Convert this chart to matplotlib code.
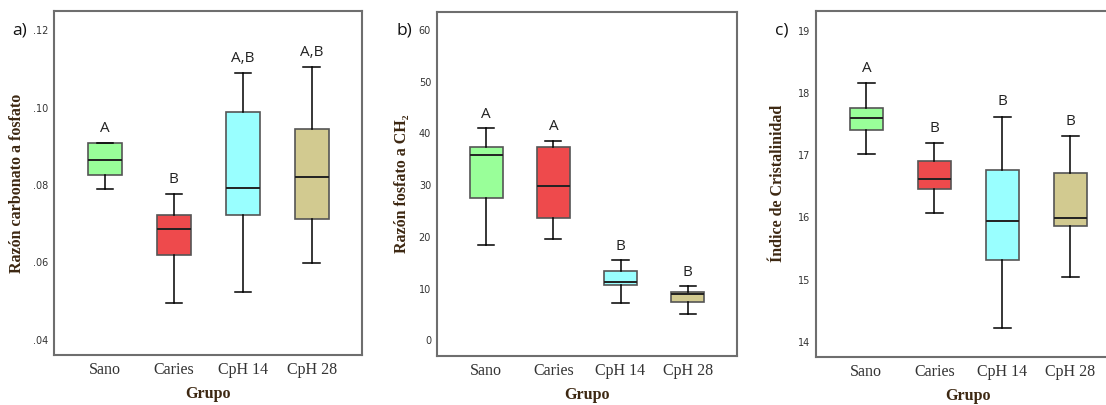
import matplotlib
matplotlib.use('Agg')
from matplotlib import pyplot as plt
from matplotlib.ticker import FuncFormatter

GROUPS = ['Sano', 'Caries', 'CpH 14', 'CpH 28']
COLORS = ['#99ff99', '#ee4a4c', '#99ffff', '#d2ca90']

# whislo, q1, med, q3, whishi per group
CARB_LO = [0.0790, 0.0496, 0.0523, 0.0599]
CARB_Q1 = [0.0825, 0.0618, 0.0723, 0.0712]
CARB_MED = [0.0865, 0.0687, 0.0791, 0.0821]
CARB_Q3 = [0.0909, 0.0723, 0.0989, 0.0944]
CARB_HI = [0.0909, 0.0778, 0.1090, 0.1106]
CARB_LETTERS = ['A', 'B', 'A,B', 'A,B']

FOSF_LO = [18.5, 19.5, 7.2, 5.0]
FOSF_Q1 = [27.5, 23.7, 10.6, 7.4]
FOSF_MED = [35.9, 29.8, 11.3, 8.9]
FOSF_Q3 = [37.4, 37.4, 13.4, 9.35]
FOSF_HI = [41.0, 38.6, 15.5, 10.5]
FOSF_LETTERS = ['A', 'A', 'B', 'B']

CRIS_LO = [17.02, 16.07, 14.22, 15.04]
CRIS_Q1 = [17.41, 16.45, 15.32, 15.86]
CRIS_MED = [17.60, 16.61, 15.94, 15.99]
CRIS_Q3 = [17.76, 16.91, 16.77, 16.71]
CRIS_HI = [18.16, 17.19, 17.62, 17.31]
CRIS_LETTERS = ['A', 'B', 'B', 'B']

SERIF = 'Liberation Serif'
LABEL_COLOR = '#3d2812'


def draw_panel(fig, rect, lo, q1, med, q3, hi, letters, ylim, yticks, fmt,
               ylabel, tag, letter_off, ylab_x, right_spine=True):
    ax = fig.add_axes(rect)
    stats = []
    for i in range(len(GROUPS)):
        stats.append({'whislo': lo[i], 'q1': q1[i], 'med': med[i],
                      'q3': q3[i], 'whishi': hi[i], 'label': GROUPS[i]})
    bp = ax.bxp(stats, positions=range(1, 5), widths=0.49, patch_artist=True,
                showfliers=False,
                boxprops=dict(edgecolor='#555555', linewidth=1.2),
                medianprops=dict(color='#222222', linewidth=1.4),
                whiskerprops=dict(color='black', linewidth=1.1),
                capprops=dict(color='black', linewidth=1.1),
                capwidths=0.24)
    for patch, c in zip(bp['boxes'], COLORS):
        patch.set_facecolor(c)

    for i, txt in enumerate(letters):
        ax.text(i + 1, hi[i] + letter_off, txt, ha='center', va='bottom',
                fontsize=11, family='Open Sans', color='#222222')

    ax.set_xlim(0.26, 4.73)
    ax.set_ylim(*ylim)
    ax.set_yticks(yticks)
    ax.yaxis.set_major_formatter(FuncFormatter(fmt))
    ax.tick_params(axis='both', length=0)
    ax.tick_params(axis='y', labelsize=7, labelcolor='#333333', pad=4)
    ax.tick_params(axis='x', labelsize=11.5, labelcolor='#333333', pad=5)
    for lbl in ax.get_xticklabels():
        lbl.set_family(SERIF)
    for s in ax.spines.values():
        s.set_color('#6e6e6e')
        s.set_linewidth(1.5)
    if not right_spine:
        ax.spines['right'].set_visible(False)
    ax.set_xlabel('Grupo', family=SERIF, fontweight='bold', fontsize=11.5,
                  color=LABEL_COLOR, labelpad=6)
    ax.set_ylabel(ylabel, family=SERIF, fontweight='bold', fontsize=11.5,
                  color=LABEL_COLOR, va='center')
    ax.yaxis.set_label_coords(ylab_x, 0.5)
    ax.text(-0.135, 0.945, tag, transform=ax.transAxes, fontsize=12.5,
            family='Open Sans', color='#111111', ha='left', va='center')
    return ax


fig = plt.figure(figsize=(11.06, 4.05), dpi=100)

draw_panel(fig, [0.0488, 0.1235, 0.2785, 0.849],
           CARB_LO, CARB_Q1, CARB_MED, CARB_Q3, CARB_HI, CARB_LETTERS,
           (0.0361, 0.1249), [0.04, 0.06, 0.08, 0.10, 0.12],
           lambda v, p: ('%.2f' % v)[1:], 'Razón carbonato a fosfato', 'a)',
           0.0018, -0.12)

draw_panel(fig, [0.3948, 0.1217, 0.2712, 0.8487],
           FOSF_LO, FOSF_Q1, FOSF_MED, FOSF_Q3, FOSF_HI, FOSF_LETTERS,
           (-3.0, 63.5), [0, 10, 20, 30, 40, 50, 60],
           lambda v, p: '%d' % v, 'Razón fosfato a CH₂', 'b)', 1.2, -0.117)

draw_panel(fig, [0.7378, 0.1193, 0.275, 0.8535],
           CRIS_LO, CRIS_Q1, CRIS_MED, CRIS_Q3, CRIS_HI, CRIS_LETTERS,
           (13.76, 19.32), [14, 15, 16, 17, 18, 19],
           lambda v, p: '%d' % v, 'Índice de Cristalinidad', 'c)', 0.12,
           -0.125, right_spine=False)

fig.savefig('out.png', dpi=100)
